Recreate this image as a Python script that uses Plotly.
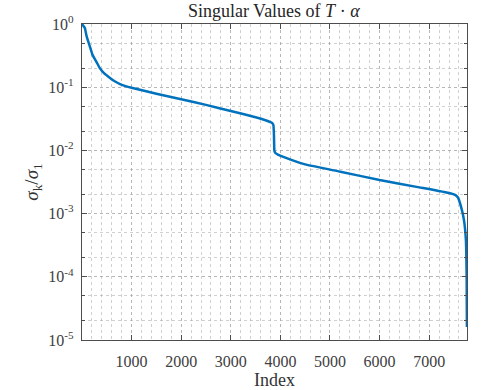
import plotly.graph_objects as go

index = [1, 30, 60, 90, 105, 160, 210, 295, 360, 450, 565, 660, 768, 880, 1000, 1500,
         2000, 2500, 3000, 3500, 3700, 3800, 3840, 3860, 3870, 3875, 3880, 3900, 3950,
         4060, 4500, 5210, 6000, 6800, 7420, 7520, 7580, 7640, 7700, 7740, 7755, 7760]
ratio = [1.0, 0.93, 0.86, 0.66, 0.6, 0.44, 0.33, 0.25, 0.2, 0.165, 0.14, 0.124, 0.112,
         0.104, 0.098, 0.079, 0.0645, 0.0525, 0.042, 0.0335, 0.030, 0.0279, 0.0268,
         0.025, 0.018, 0.012, 0.0098, 0.0091, 0.0086, 0.0079, 0.006, 0.0046, 0.0034,
         0.0026, 0.0021, 0.00198, 0.0018, 0.0013, 0.0008, 0.00038, 0.0001, 0.000016]

x_ticks = [1000, 2000, 3000, 4000, 5000, 6000, 7000]
y_ticks = [1e-5, 1e-4, 1e-3, 1e-2, 1e-1, 1]
y_ticktext = ["10<sup>-5</sup>", "10<sup>-4</sup>", "10<sup>-3</sup>", "10<sup>-2</sup>",
              "10<sup>-1</sup>", "10<sup>0</sup>"]

font = "Liberation Serif, Times New Roman, serif"
axcol = "#4d4d4d"
labcol = "#404040"
gridcol = "rgba(150,150,150,0.45)"

fig = go.Figure()
fig.add_trace(go.Scatter(x=index, y=ratio, mode="lines",
                         line=dict(color="#0072BD", width=2.5, shape="spline", smoothing=0.4),
                         showlegend=False))

fig.update_layout(
    width=482, height=390,
    margin=dict(l=82, r=15, t=24, b=50),
    paper_bgcolor="white", plot_bgcolor="white",
    font=dict(family=font, size=16, color=labcol),
    title=dict(text="Singular Values of <i>T</i> · <i>α</i>", x=0.568, xanchor="center",
               y=0.972, yanchor="middle", font=dict(family=font, size=18, color="#262626")),
)
fig.update_xaxes(
    range=[1, 7762], tickvals=x_ticks, ticks="inside", ticklen=5, tickcolor=axcol,
    showline=True, linecolor=axcol, linewidth=1.2, mirror="allticks",
    showgrid=True, gridcolor=gridcol, griddash="dot", gridwidth=1,
    minor=dict(dtick=200, showgrid=True, gridcolor=gridcol, griddash="dot", ticks=""),
    zeroline=False, ticklabelstandoff=7, automargin=False,
    title=dict(text="Index", font=dict(family=font, size=18, color="#333"), standoff=6),
    tickfont=dict(family=font, size=16, color=labcol),
)
fig.update_yaxes(
    type="log", range=[-5, 0], tickvals=y_ticks, ticktext=y_ticktext,
    ticks="inside", ticklen=5, tickcolor=axcol,
    showline=True, linecolor=axcol, linewidth=1.2, mirror="allticks",
    showgrid=True, gridcolor=gridcol, griddash="dot", gridwidth=1,
    minor=dict(ticks="inside", ticklen=3, tickcolor=axcol, showgrid=True,
               gridcolor=gridcol, griddash="dot"),
    zeroline=False, ticklabelstandoff=4, automargin=False,
    title=dict(text="<i>σ</i><sub>k</sub>/<i>σ</i><sub>1</sub>",
               font=dict(family=font, size=19, color="#333"), standoff=4),
    tickfont=dict(family=font, size=16, color=labcol),
)

fig.write_html("out.html")
